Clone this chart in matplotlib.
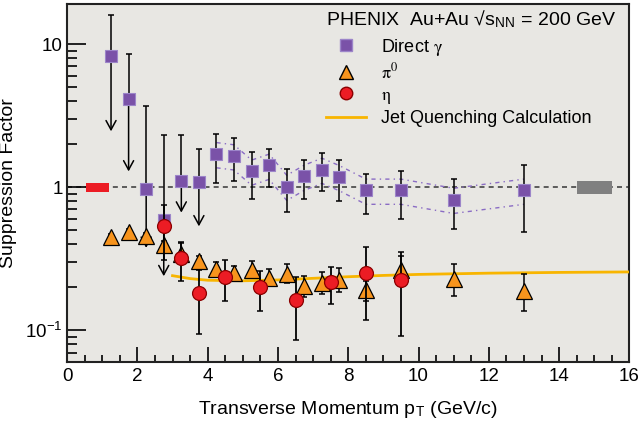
import numpy as np
import matplotlib.pyplot as plt
from matplotlib.lines import Line2D
from matplotlib.patches import Rectangle
from matplotlib.ticker import FixedLocator, FixedFormatter, MultipleLocator, NullFormatter

plt.rcParams['font.family'] = ['Liberation Sans', 'DejaVu Sans']
plt.rcParams['mathtext.fontset'] = 'stix'

# Direct photons (first six are upper limits)
gam_pt = [1.25, 1.75, 2.25, 2.75, 3.25, 3.75, 4.25, 4.75, 5.25, 5.75, 6.25, 6.75,
          7.25, 7.75, 8.5, 9.5, 11.0, 13.0]
gam_val = [8.2, 4.17, 0.98, 0.588, 1.10, 1.08, 1.71, 1.65, 1.29, 1.42, 1.01, 1.19,
           1.33, 1.18, 0.95, 0.95, 0.82, 0.95]
gam_hi = [16.1, 8.6, 3.67, 2.3, 2.31, 1.86, 2.34, 2.2, 1.75, 1.84, 1.34, 1.56,
          1.74, 1.55, 1.24, 1.30, 1.14, 1.43]
gam_lo = [2.46, 1.29, 0.377, 0.239, 0.665, 0.533, 1.07, 1.11, 0.83, 1.0, 0.67, 0.83,
          0.94, 0.80, 0.65, 0.60, 0.51, 0.49]
n_limits = 6
# relative systematic band (points 4.25 .. 13 GeV/c)
gam_sys = [0.2, 0.2, 0.2, 0.2, 0.2, 0.2, 0.2, 0.2, 0.2, 0.2, 0.2, 0.2]

# pi0
pi0_pt = [1.25, 1.75, 2.25, 2.75, 3.25, 3.75, 4.25, 4.75, 5.25, 5.75, 6.25, 6.75,
          7.25, 7.75, 8.5, 9.5, 11.0, 13.0]
pi0_val = [0.447, 0.488, 0.459, 0.393, 0.339, 0.304, 0.269, 0.252, 0.266, 0.232, 0.248,
           0.203, 0.214, 0.224, 0.19, 0.266, 0.229, 0.187]
pi0_hi = [0.47, 0.51, 0.48, 0.42, 0.41, 0.33, 0.30, 0.283, 0.307, 0.27, 0.29, 0.238,
          0.256, 0.273, 0.22, 0.333, 0.292, 0.249]
pi0_lo = [0.425, 0.465, 0.437, 0.365, 0.30, 0.28, 0.245, 0.22, 0.235, 0.209, 0.214,
          0.171, 0.179, 0.184, 0.16, 0.22, 0.173, 0.137]

# eta
eta_pt = [2.75, 3.25, 3.75, 4.5, 5.5, 6.5, 7.5, 8.5, 9.5]
eta_val = [0.534, 0.321, 0.181, 0.236, 0.201, 0.162, 0.217, 0.252, 0.224]
eta_hi = [0.757, 0.415, 0.266, 0.309, 0.261, 0.236, 0.278, 0.383, 0.351]
eta_lo = [0.309, 0.223, 0.095, 0.161, 0.137, 0.086, 0.154, 0.119, 0.091]

# jet quenching calculation
jq_pt = [3.0, 3.5, 4.0, 5.0, 6.0, 7.0, 8.0, 9.0, 10.0, 12.0, 14.0, 16.0]
jq_val = [0.241, 0.23, 0.224, 0.222, 0.225, 0.231, 0.237, 0.242, 0.246, 0.251, 0.254, 0.256]

# normalisation uncertainty boxes
red_box = (0.55, 1.2, 0.93, 1.07)
gray_box = (14.5, 15.5, 0.90, 1.10)

purple = '#7a52a8'
orange = '#f7941d'
red = '#ec1c24'
gold = '#f8b500'

fig = plt.figure(figsize=(6.39, 4.26), dpi=100)
ax = fig.add_axes([0.105, 0.150, 0.880, 0.840])
ax.set_facecolor('#e8e7e3')
ax.set_yscale('log')
ax.set_xlim(0, 16)
ax.set_ylim(0.06, 19)

ax.axhline(1, color='#444444', lw=1.2, ls=(0, (3, 2.5)), zorder=1)
for (x0, x1, y0, y1), c in [(red_box, red), (gray_box, '#808080')]:
    ax.add_patch(Rectangle((x0, y0), x1 - x0, y1 - y0, color=c, lw=0, zorder=2))

# systematic band lines
bx = np.array(gam_pt[n_limits:])
bv = np.array(gam_val[n_limits:])
bs = np.array(gam_sys)
for sgn in (1, -1):
    ax.plot(bx, bv * (1 + sgn * bs), color='#8a6cc4', lw=1, ls=(0, (3, 3, 1, 3)), zorder=2)

ax.plot(jq_pt, jq_val, color=gold, lw=2, zorder=3)

# direct photons
gv = np.array(gam_val)
lo_err = gv - np.array(gam_lo)
lo_err[:n_limits] = 0
ax.errorbar(gam_pt, gam_val, yerr=[lo_err, np.array(gam_hi) - gv], fmt='none',
            ecolor='black', elinewidth=1.1, capsize=2.5, capthick=1.1, zorder=4)
for i in range(n_limits):
    ax.annotate('', xy=(gam_pt[i], gam_lo[i]), xytext=(gam_pt[i], gam_val[i]),
                arrowprops=dict(arrowstyle='->,head_width=0.3,head_length=0.55',
                                color='black', lw=1.1, shrinkA=0, shrinkB=0,
                                mutation_scale=12), zorder=4)
ax.plot(gam_pt, gam_val, 's', ms=9, color=purple, mec='#9c85c9', mew=0.8, zorder=5)

# pi0
pv = np.array(pi0_val)
ax.errorbar(pi0_pt, pi0_val, yerr=[pv - np.array(pi0_lo), np.array(pi0_hi) - pv],
            fmt='none', ecolor='black', elinewidth=1.1, capsize=2.5, capthick=1.1, zorder=6)
ax.plot(pi0_pt, pi0_val, '^', ms=12, color=orange, mec='black', mew=0.9, zorder=7)

# eta
ev = np.array(eta_val)
ax.errorbar(eta_pt, eta_val, yerr=[ev - np.array(eta_lo), np.array(eta_hi) - ev],
            fmt='none', ecolor='black', elinewidth=1.3, capsize=2.5, capthick=1.1, zorder=8)
ax.plot(eta_pt, eta_val, 'o', ms=10, color=red, mec='#8b0000', mew=0.9, zorder=9)

# axes styling
ax.xaxis.set_major_locator(MultipleLocator(2))
ax.xaxis.set_minor_locator(MultipleLocator(0.5))
ax.yaxis.set_major_locator(FixedLocator([0.1, 1, 10]))
ax.yaxis.set_major_formatter(FixedFormatter([r'$\mathregular{10^{-1}}$', '1', '10']))
minors = [m * d for d in (0.01, 0.1, 1) for m in range(2, 10)]
ax.yaxis.set_minor_locator(FixedLocator(minors))
ax.yaxis.set_minor_formatter(NullFormatter())
ax.tick_params(which='both', direction='in', top=False, right=False, labelsize=13.5,
               width=1.2, colors='black')
ax.tick_params(axis='x', which='major', length=11, pad=4)
ax.tick_params(axis='x', which='minor', length=5)
ax.tick_params(axis='y', which='major', length=14, pad=3)
ax.tick_params(axis='y', which='minor', length=7)
for sp in ax.spines.values():
    sp.set_linewidth(1.5)
    sp.set_color('#222222')

ax.set_xlabel(r'Transverse Momentum p$_\mathregular{T}$ (GeV/c)', fontsize=14, labelpad=10)
ax.set_ylabel('Suppression Factor', fontsize=14, labelpad=6)

handles = [
    Line2D([], [], marker='s', ls='none', ms=8, color=purple, mec='#9c85c9'),
    Line2D([], [], marker='^', ls='none', ms=10, color=orange, mec='black'),
    Line2D([], [], marker='o', ls='none', ms=9, color=red, mec='#8b0000'),
    Line2D([], [], color=gold, lw=2),
]
labels = [r'Direct $\mathrm{\gamma}$', r'$\mathrm{\pi^0}$', r'$\mathrm{\eta}$',
          'Jet Quenching Calculation']
leg = ax.legend(handles, labels, loc='upper right', bbox_to_anchor=(1.0, 1.025),
                frameon=False, fontsize=13, handlelength=2.2, handletextpad=0.8,
                labelspacing=0.25, borderpad=0.2,
                title=r'PHENIX  Au+Au √s$_\mathregular{NN}$ = 200 GeV',
                title_fontsize=14, alignment='left')
leg._legend_box.sep = 5

fig.savefig('out.png', dpi=100)
